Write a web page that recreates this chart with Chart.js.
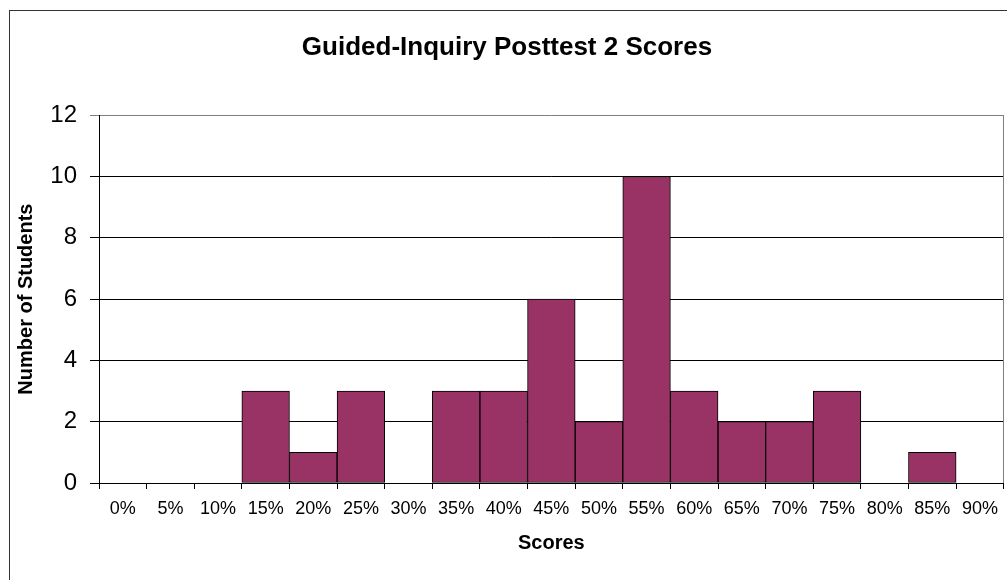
<!DOCTYPE html>
<html>
<head>
<meta charset="utf-8">
<script src="https://cdn.jsdelivr.net/npm/chart.js@4/dist/chart.umd.min.js"></script>
<style>
  body { margin: 0; background: #fff; }
  #wrap { width: 1007px; height: 580px; }
</style>
</head>
<body>
<div id="wrap"><canvas id="scores" width="1007" height="580"></canvas></div>
<script>
// score bins and number of students in each
const scoreBins = ['0%', '5%', '10%', '15%', '20%', '25%', '30%', '35%', '40%', '45%',
  '50%', '55%', '60%', '65%', '70%', '75%', '80%', '85%', '90%'];
const studentCounts = [0, 0, 0, 3, 1, 3, 0, 3, 3, 6, 2, 10, 3, 2, 2, 3, 0, 1, 0];
const yTicks = [0, 2, 4, 6, 8, 10, 12];

// frame round the whole chart + grey right edge of the plot
const framePlugin = {
  id: 'frame',
  beforeDraw(chart) {
    const ctx = chart.ctx;
    ctx.save();
    ctx.strokeStyle = '#333';
    ctx.lineWidth = 1;
    ctx.strokeRect(9.5, 10.5, 1200, 1000);
    ctx.restore();
  },
  beforeDatasetsDraw(chart) {
    const a = chart.chartArea;
    const ctx = chart.ctx;
    ctx.save();
    ctx.strokeStyle = '#808080';
    ctx.lineWidth = 1;
    ctx.beginPath();
    ctx.moveTo(Math.round(a.right) - 0.5, a.top);
    ctx.lineTo(Math.round(a.right) - 0.5, a.bottom);
    ctx.stroke();
    ctx.restore();
  }
};

let chart = new Chart(document.getElementById('scores'), {
  type: 'bar',
  data: {
    labels: scoreBins,
    datasets: [{
      data: studentCounts,
      backgroundColor: '#993366',
      borderColor: '#000',
      borderWidth: 1,
      borderSkipped: false,
      barPercentage: 1,
      categoryPercentage: 1
    }]
  },
  options: {
    responsive: false,
    animation: false,
    layout: { padding: { left: 10, top: 10, right: 3, bottom: 25 } },
    plugins: {
      legend: { display: false },
      tooltip: { enabled: false },
      title: {
        display: true,
        text: 'Guided-Inquiry Posttest 2 Scores',
        color: '#000',
        font: { family: 'Arial, "Liberation Sans"', size: 26, weight: 'bold' },
        padding: { top: 22, bottom: 52 }
      }
    },
    scales: {
      x: {
        grid: { offset: true, drawOnChartArea: false, drawTicks: true, tickLength: 6, color: '#000' },
        border: { color: '#000' },
        ticks: {
          color: '#000', padding: 9, maxRotation: 0, autoSkip: false,
          font: { family: 'Arial, "Liberation Sans"', size: 18 }
        },
        title: {
          display: true, text: 'Scores', color: '#000',
          font: { family: 'Arial, "Liberation Sans"', size: 20, weight: 'bold' },
          padding: { top: 0, bottom: 0 }
        },
        afterFit(scale) { scale.height = 72; }
      },
      y: {
        min: 0, max: 12,
        afterBuildTicks(scale) { scale.ticks = yTicks.map(v => ({ value: v })); },
        grid: {
          color: c => (c.tick && c.tick.value === 12) ? '#808080' : '#000',
          tickLength: 9
        },
        border: { color: '#000' },
        ticks: {
          color: '#000', padding: 13,
          font: { family: 'Arial, "Liberation Sans"', size: 24 }
        },
        title: {
          display: true, text: 'Number of Students', color: '#000',
          font: { family: 'Arial, "Liberation Sans"', size: 20, weight: 'bold' },
          padding: { top: 4, bottom: 0 }
        },
        afterFit(scale) { scale.width = 89; }
      }
    }
  },
  plugins: [framePlugin]
});
</script>
</body>
</html>
